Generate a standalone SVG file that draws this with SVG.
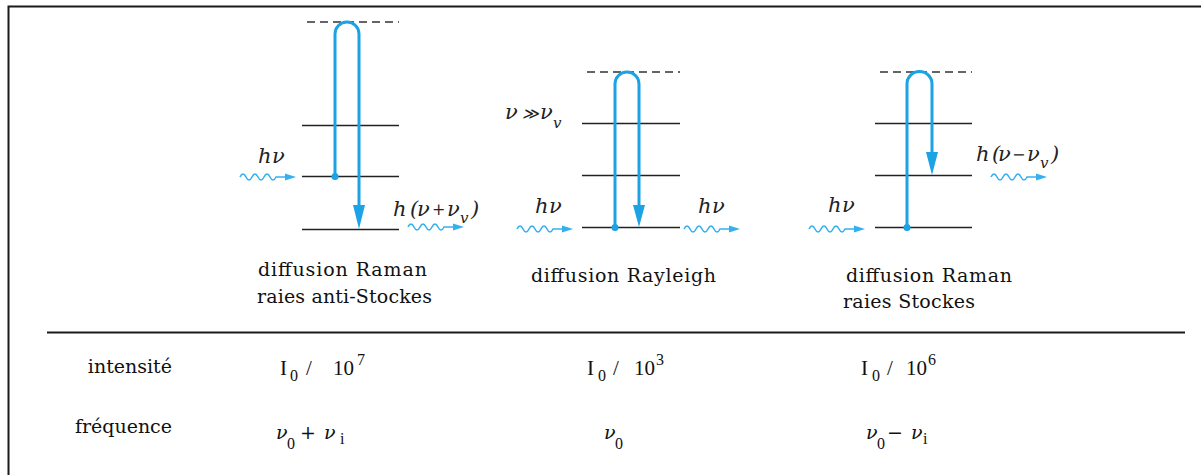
<svg xmlns="http://www.w3.org/2000/svg" width="1201" height="475" viewBox="0 0 1201 475">
<style>
.frame{stroke:#1a1a1a;stroke-width:2;fill:none}
.lvl{stroke:#222;stroke-width:1.6}
.dash{stroke:#333;stroke-width:1.6;stroke-dasharray:8 5}
.loop{stroke:#1ba3e6;stroke-width:3;fill:none}
.tip{fill:#1ba3e6}
.wave{stroke:#35b0ee;stroke-width:1.6;fill:none}
.lab{font-family:"DejaVu Serif","Liberation Serif",serif;font-size:19px;fill:#111}
.tab{font-family:"DejaVu Serif","Liberation Serif",serif;font-size:19px;fill:#111}
.num{font-family:"Liberation Serif","DejaVu Serif",serif;font-size:21px;fill:#111}
.ph{font-family:"DejaVu Serif","Liberation Serif",serif;font-style:italic;font-size:21px;fill:#222}
.sub{font-size:15px}
.op{font-size:16px}
.sm{font-family:"Liberation Serif","DejaVu Serif",serif;font-size:16px;fill:#111}
</style>
<defs>
<g id="wavy">
<path class="wave" d="M0,0 q3,-6 6,0 t6,0 t6,0 t6,0 t6,0 t6,0 L48,0"/>
<polygon points="45,-3.5 56,0 45,3.5" fill="#35b0ee"/>
</g>
</defs>
<rect width="1201" height="475" fill="#fff"/>
<g id="frame">
<path class="frame" d="M8.5,475 V6.5 H1201"/>
<line class="frame" x1="47" y1="332.5" x2="1185" y2="332.5"/>
</g>

<g id="anti-stokes">
<line class="dash" x1="307" y1="22" x2="399" y2="22"/>
<line class="lvl" x1="302" y1="125.5" x2="399" y2="125.5"/>
<line class="lvl" x1="302" y1="176.5" x2="399" y2="176.5"/>
<line class="lvl" x1="302" y1="229.5" x2="399" y2="229.5"/>
<text class="ph" x="258" y="163">h<tspan x="272">ν</tspan></text>
<text class="ph" x="393" y="216">h<tspan x="410">(</tspan><tspan x="417">ν</tspan><tspan class="op" x="432" dy="-1">+</tspan><tspan x="447" dy="1">ν</tspan><tspan class="sub" x="460" dy="7">v</tspan><tspan x="471" dy="-7">)</tspan></text>
<text class="lab" x="258" y="276" textLength="169">diffusion Raman</text>
<text class="lab" x="257" y="303" textLength="175">raies anti-Stockes</text>
</g>

<g id="rayleigh">
<line class="dash" x1="587" y1="72" x2="680" y2="72"/>
<line class="lvl" x1="582" y1="123.5" x2="680" y2="123.5"/>
<line class="lvl" x1="582" y1="175.5" x2="680" y2="175.5"/>
<line class="lvl" x1="582" y1="227.5" x2="680" y2="227.5"/>
<text class="ph" x="505" y="119">ν<tspan class="op" x="522">≫</tspan><tspan x="540">ν</tspan><tspan class="sub" x="553" dy="9">v</tspan></text>
<text class="ph" x="535" y="213">h<tspan x="549">ν</tspan></text>
<text class="ph" x="698" y="213">h<tspan x="712">ν</tspan></text>
<text class="lab" x="531" y="282" textLength="185">diffusion Rayleigh</text>
</g>

<g id="stokes">
<line class="dash" x1="880" y1="72" x2="972" y2="72"/>
<line class="lvl" x1="875" y1="123.5" x2="972" y2="123.5"/>
<line class="lvl" x1="875" y1="175.5" x2="972" y2="175.5"/>
<line class="lvl" x1="875" y1="227.5" x2="972" y2="227.5"/>
<text class="ph" x="828" y="212">h<tspan x="842">ν</tspan></text>
<text class="ph" x="976" y="161">h<tspan x="992">(</tspan><tspan x="998">ν</tspan><tspan class="op" x="1012" dy="-1">−</tspan><tspan x="1027" dy="1">ν</tspan><tspan class="sub" x="1040" dy="7">v</tspan><tspan x="1051" dy="-7">)</tspan></text>
<text class="lab" x="846" y="282" textLength="166">diffusion Raman</text>
<text class="lab" x="843" y="308" textLength="132">raies Stockes</text>
</g>

<g id="table">
<text class="tab" x="172" y="373" text-anchor="end">intensité</text>
<text class="tab" x="172" y="433" text-anchor="end">fréquence</text>

<text class="num" x="280" y="375">I</text><text class="sm" x="290" y="381">0</text>
<text class="num" x="306" y="375">/</text><text class="num" x="333" y="375">10</text><text class="sm" x="357" y="365">7</text>

<text class="num" x="587" y="375">I</text><text class="sm" x="598" y="381">0</text>
<text class="num" x="613" y="375">/</text><text class="num" x="634" y="375">10</text><text class="sm" x="656" y="365">3</text>

<text class="num" x="861" y="375">I</text><text class="sm" x="872" y="381">0</text>
<text class="num" x="887" y="375">/</text><text class="num" x="906" y="375">10</text><text class="sm" x="928" y="365">6</text>

<text class="tab" x="276" y="439" font-style="italic">ν</text><text class="sm" x="287" y="449">0</text>
<text class="tab" x="300" y="439">+</text>
<text class="tab" x="324" y="439" font-style="italic">ν</text><text class="sm" x="340" y="444">i</text>

<text class="tab" x="604" y="439" font-style="italic">ν</text><text class="sm" x="615" y="449">0</text>

<text class="tab" x="866" y="439" font-style="italic">ν</text><text class="sm" x="877" y="449">0</text>
<text class="tab" x="887" y="439">−</text>
<text class="tab" x="911" y="439" font-style="italic">ν</text><text class="sm" x="923" y="444">i</text>
</g>

<g id="connectors">
<path class="loop" d="M335,176 V34 A12,12 0 0 1 359,34 V206"/>
<polygon class="tip" points="353,205 365,205 359,229"/>
<circle class="tip" cx="335" cy="176.5" r="3.5"/>
<path class="loop" d="M615,227 V84 A12,12 0 0 1 639,84 V206"/>
<polygon class="tip" points="633,205 645,205 639,227"/>
<circle class="tip" cx="615" cy="227.5" r="3.5"/>
<path class="loop" d="M907,227 V84 A12.5,12.5 0 0 1 932,84 V153"/>
<polygon class="tip" points="926,152 938,152 932,175"/>
<circle class="tip" cx="907" cy="227.5" r="3.5"/>
<use href="#wavy" x="240" y="177"/>
<use href="#wavy" x="408" y="227"/>
<use href="#wavy" x="517" y="229"/>
<use href="#wavy" x="684" y="229"/>
<use href="#wavy" x="809" y="229"/>
<use href="#wavy" x="991" y="177"/>
</g>
</svg>
